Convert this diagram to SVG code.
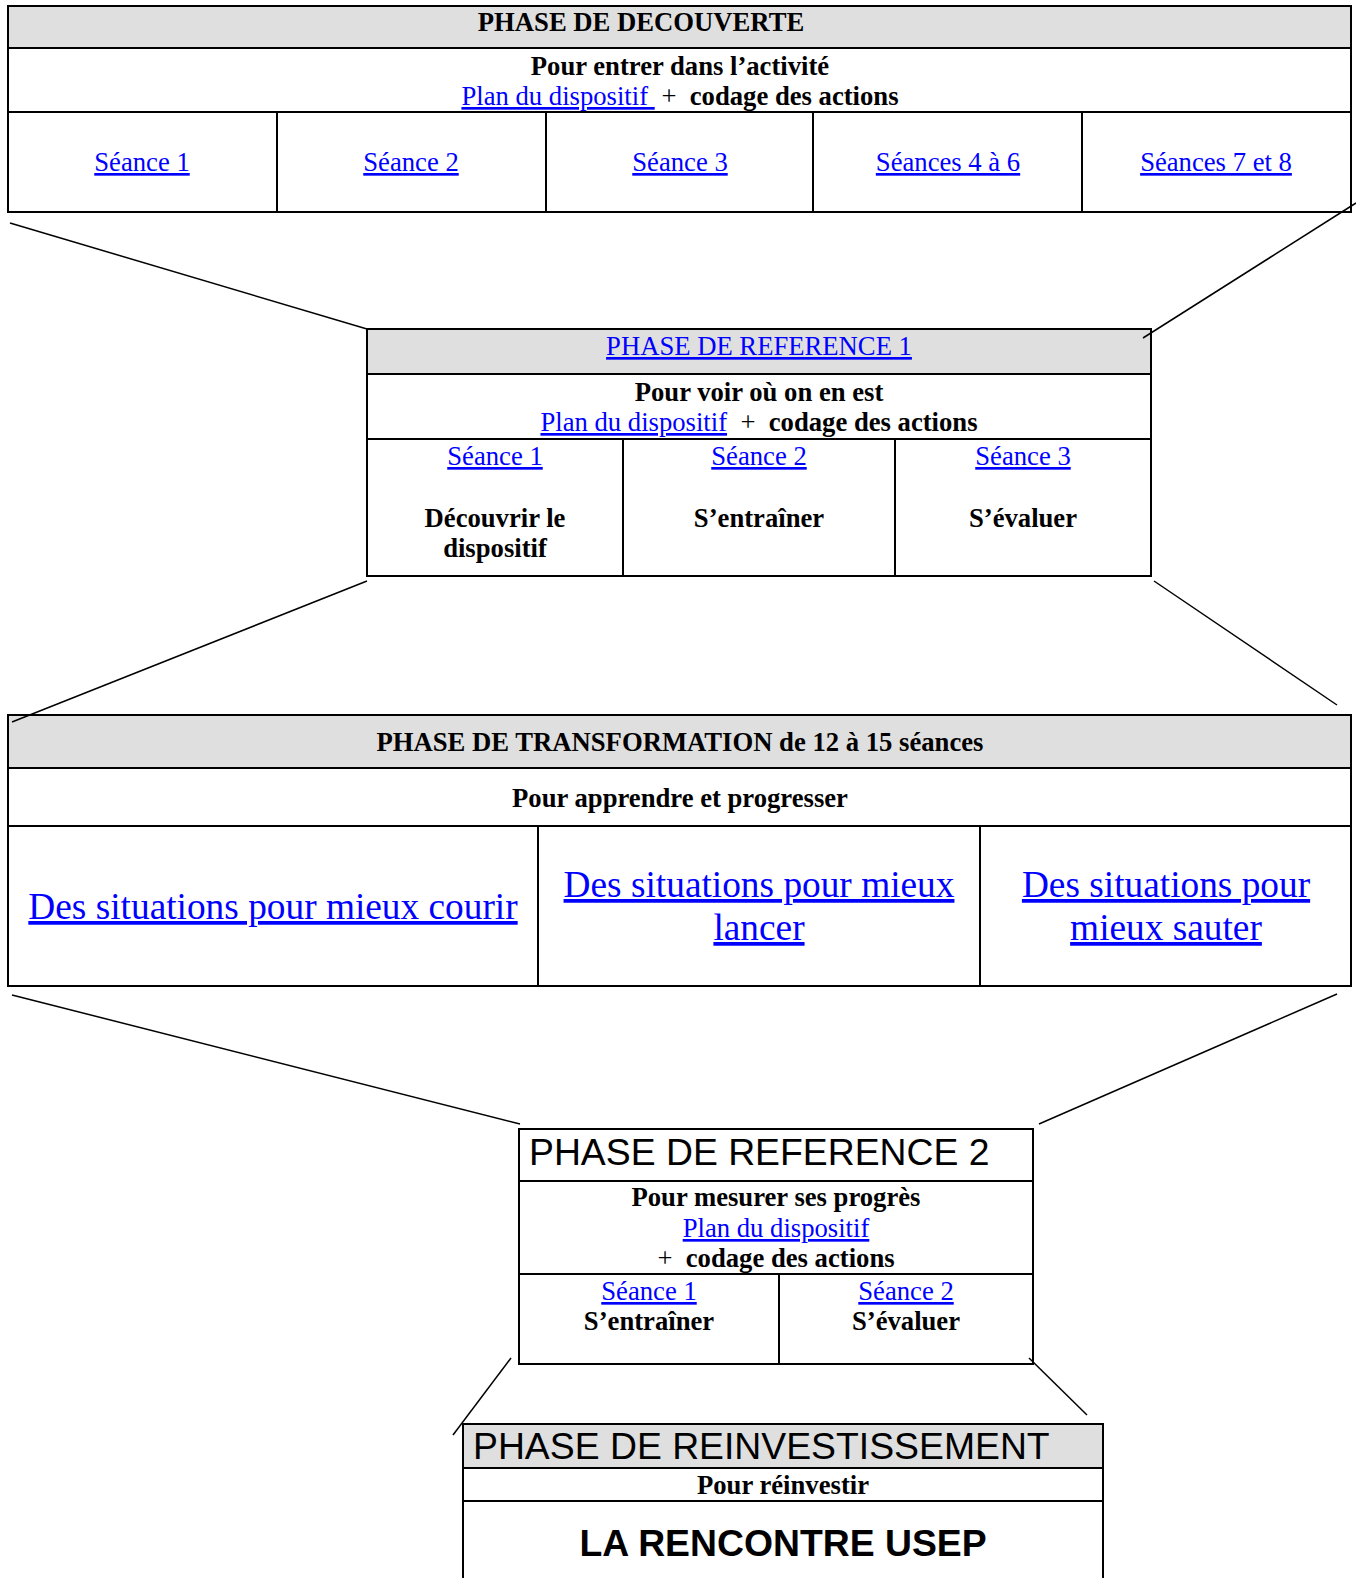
<svg xmlns="http://www.w3.org/2000/svg" width="1356" height="1578" viewBox="0 0 1356 1578">
<style>
.bg{fill:#fff}
.hd{fill:#dfdfdf;stroke:#000;stroke-width:2}
.bx{fill:none;stroke:#000;stroke-width:2}
.ln{stroke:#000;stroke-width:2}
.cn{stroke:#000;stroke-width:1.5;fill:none}
text{white-space:pre}
.b{font-family:"Liberation Serif","Times New Roman",serif;font-weight:bold;font-size:26.67px;fill:#000}
.r{font-family:"Liberation Serif","Times New Roman",serif;font-weight:normal;font-size:26.67px;fill:#000}
.lk{font-family:"Liberation Serif","Times New Roman",serif;font-weight:normal;font-size:26.67px;fill:#0000ff;text-decoration:underline}
.lkL{font-family:"Liberation Serif","Times New Roman",serif;font-weight:normal;font-size:37.33px;fill:#0000ff;text-decoration:underline}
.ar{font-family:"Liberation Sans",Arial,sans-serif;font-size:37.33px;fill:#000}
.arb{font-family:"Liberation Sans",Arial,sans-serif;font-size:37.33px;font-weight:bold;fill:#000}
.m{text-anchor:middle}
</style>
<rect class="bg" x="0" y="0" width="1356" height="1578"/>

<g id="phase-decouverte">
<rect class="hd" x="8" y="6" width="1343" height="42"/>
<rect class="bx" x="8" y="6" width="1343" height="206"/>
<line class="ln" x1="8" y1="112" x2="1351" y2="112"/>
<line class="ln" x1="277" y1="112" x2="277" y2="212"/>
<line class="ln" x1="546" y1="112" x2="546" y2="212"/>
<line class="ln" x1="813" y1="112" x2="813" y2="212"/>
<line class="ln" x1="1082" y1="112" x2="1082" y2="212"/>
<text class="b m" x="641" y="31">PHASE DE DECOUVERTE</text>
<text class="b m" x="680" y="75">Pour entrer dans l’activité</text>
<text class="b m" x="680" y="105"><tspan class="lk">Plan du dispositif </tspan><tspan class="r"> +  </tspan>codage des actions</text>
<text class="lk m" x="142" y="171">Séance 1</text>
<text class="lk m" x="411" y="171">Séance 2</text>
<text class="lk m" x="680" y="171">Séance 3</text>
<text class="lk m" x="948" y="171">Séances 4 à 6</text>
<text class="lk m" x="1216" y="171">Séances 7 et 8</text>
</g>

<g id="phase-reference-1">
<rect class="hd" x="367" y="329" width="784" height="45"/>
<rect class="bx" x="367" y="329" width="784" height="247"/>
<line class="ln" x1="367" y1="439" x2="1151" y2="439"/>
<line class="ln" x1="623" y1="439" x2="623" y2="576"/>
<line class="ln" x1="895" y1="439" x2="895" y2="576"/>
<text class="lk m" x="759" y="355">PHASE DE REFERENCE 1</text>
<text class="b m" x="759" y="401">Pour voir où on en est</text>
<text class="b m" x="759" y="431"><tspan class="lk">Plan du dispositif</tspan><tspan class="r">  +  </tspan>codage des actions</text>
<text class="lk m" x="495" y="465">Séance 1</text>
<text class="lk m" x="759" y="465">Séance 2</text>
<text class="lk m" x="1023" y="465">Séance 3</text>
<text class="b m" x="495" y="527">Découvrir le</text>
<text class="b m" x="495" y="557">dispositif</text>
<text class="b m" x="759" y="527">S’entraîner</text>
<text class="b m" x="1023" y="527">S’évaluer</text>
</g>

<g id="phase-transformation">
<rect class="hd" x="8" y="715" width="1343" height="53"/>
<rect class="bx" x="8" y="715" width="1343" height="271"/>
<line class="ln" x1="8" y1="826" x2="1351" y2="826"/>
<line class="ln" x1="538" y1="826" x2="538" y2="986"/>
<line class="ln" x1="980" y1="826" x2="980" y2="986"/>
<text class="b m" x="680" y="751">PHASE DE TRANSFORMATION de 12 à 15 séances</text>
<text class="b m" x="680" y="807">Pour apprendre et progresser</text>
<text class="lkL m" x="273" y="919">Des situations pour mieux courir</text>
<text class="lkL m" x="759" y="897">Des situations pour mieux</text>
<text class="lkL m" x="759" y="940">lancer</text>
<text class="lkL m" x="1166" y="897">Des situations pour</text>
<text class="lkL m" x="1166" y="940">mieux sauter</text>
</g>

<g id="phase-reference-2">
<rect class="bx" x="519" y="1129" width="514" height="235"/>
<line class="ln" x1="519" y1="1181" x2="1033" y2="1181"/>
<line class="ln" x1="519" y1="1274" x2="1033" y2="1274"/>
<line class="ln" x1="779" y1="1274" x2="779" y2="1364"/>
<text class="ar" x="529" y="1165">PHASE DE REFERENCE 2</text>
<text class="b m" x="776" y="1206">Pour mesurer ses progrès</text>
<text class="lk m" x="776" y="1237">Plan du dispositif</text>
<text class="b m" x="776" y="1267"><tspan class="r">+  </tspan>codage des actions</text>
<text class="lk m" x="649" y="1300">Séance 1</text>
<text class="b m" x="649" y="1330">S’entraîner</text>
<text class="lk m" x="906" y="1300">Séance 2</text>
<text class="b m" x="906" y="1330">S’évaluer</text>
</g>

<g id="phase-reinvestissement">
<rect class="hd" x="463" y="1424" width="640" height="44"/>
<line class="ln" x1="463" y1="1423" x2="463" y2="1578"/>
<line class="ln" x1="1103" y1="1423" x2="1103" y2="1578"/>
<line class="ln" x1="463" y1="1501" x2="1103" y2="1501"/>
<text class="ar" x="473" y="1459">PHASE DE REINVESTISSEMENT</text>
<text class="b m" x="783" y="1494">Pour réinvestir</text>
<text class="arb m" x="783" y="1556">LA RENCONTRE USEP</text>
</g>

<g id="connectors">
<line class="cn" x1="10" y1="223" x2="367" y2="329"/>
<line class="cn" x1="1356" y1="203" x2="1143" y2="338"/>
<line class="cn" x1="367" y1="581" x2="12" y2="722"/>
<line class="cn" x1="1154" y1="581" x2="1337" y2="705"/>
<line class="cn" x1="12" y1="995" x2="520" y2="1124"/>
<line class="cn" x1="1337" y1="994" x2="1039" y2="1124"/>
<line class="cn" x1="511" y1="1358" x2="453" y2="1435"/>
<line class="cn" x1="1029" y1="1358" x2="1087" y2="1415"/>
</g>
</svg>
